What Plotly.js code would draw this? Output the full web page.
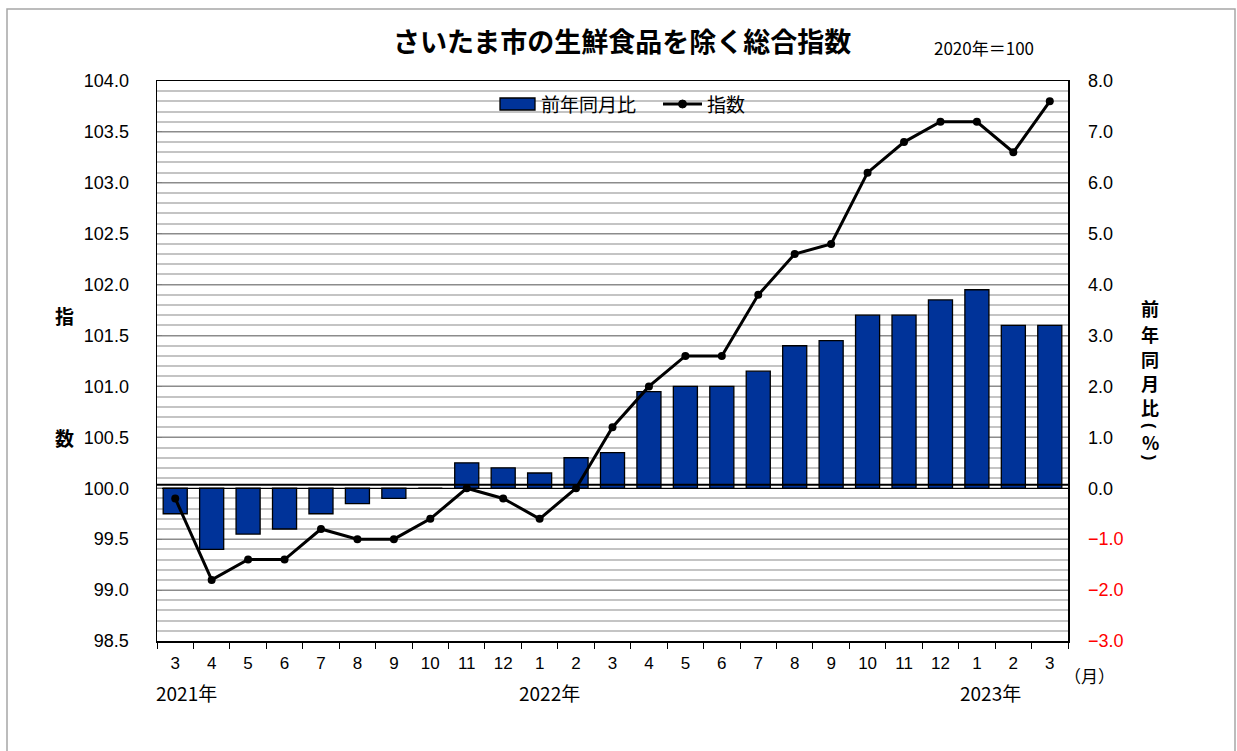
<!DOCTYPE html>
<html>
<head>
<meta charset="utf-8">
<script src="https://cdn.plot.ly/plotly-3.0.1.min.js"></script>
<style>html,body{margin:0;padding:0;background:#fff;}#chart{width:1237px;height:751px;}</style>
</head>
<body>
<div id="chart"></div>
<script>
const periods = ['2021-03','2021-04','2021-05','2021-06','2021-07','2021-08','2021-09','2021-10','2021-11','2021-12',
  '2022-01','2022-02','2022-03','2022-04','2022-05','2022-06','2022-07','2022-08','2022-09','2022-10','2022-11','2022-12',
  '2023-01','2023-02','2023-03'];
const monthLabels = ['3','4','5','6','7','8','9','10','11','12','1','2','3','4','5','6','7','8','9','10','11','12','1','2','3'];
const indexValues = [99.9,99.1,99.3,99.3,99.6,99.5,99.5,99.7,100.0,99.9,99.7,100.0,100.6,101.0,101.3,101.3,101.9,102.3,102.4,103.1,103.4,103.6,103.6,103.3,103.8];
const yoyValues = [-0.5,-1.2,-0.9,-0.8,-0.5,-0.3,-0.2,0.0,0.5,0.4,0.3,0.6,0.7,1.9,2.0,2.0,2.3,2.8,2.9,3.4,3.4,3.7,3.9,3.2,3.2];
const yearLabels = ['2021年','2022年','2023年'];
const rightTicks = [-3,-2,-1,0,1,2,3,4,5,6,7,8];
const seriesNames = ['前年同月比', '指数'];

const BAR_COLOR = '#003399';
const FONT = 'Liberation Sans, Arial, "Noto Sans CJK JP", sans-serif';
const JFONT = '"Noto Sans CJK JP", sans-serif';

const rightTickText = rightTicks.map(v => v < 0
  ? '<span style="color:#ff0000">\u2212' + Math.abs(v).toFixed(1) + '</span>'
  : v.toFixed(1));

const traces = [
  {
    type: 'bar', name: seriesNames[0], x: periods, y: yoyValues, yaxis: 'y', xaxis: 'x',
    width: 0.66,
    marker: {color: BAR_COLOR, line: {color: '#000000', width: 1.3}},
    hoverinfo: 'skip', showlegend: false
  },
  {
    type: 'scatter', mode: 'lines+markers', name: seriesNames[1], x: periods, y: indexValues, yaxis: 'y2', xaxis: 'x',
    line: {color: '#000000', width: 3},
    marker: {color: '#000000', size: 8},
    hoverinfo: 'skip', showlegend: false
  }
];

// paper-coordinate helpers from pixel positions of the 911x560 plot area
const px = v => (v - 157) / 911;
const py = v => (641 - v) / 560;

// vertical right-axis title
const rightTitle = [
  {c: '前', y: 308, rot: 0}, {c: '年', y: 334, rot: 0}, {c: '同', y: 359, rot: 0},
  {c: '月', y: 383, rot: 0}, {c: '比', y: 407, rot: 0}, {c: '(', y: 426, rot: 90},
  {c: '%', y: 442, rot: 0}, {c: ')', y: 457, rot: 90}
];
const rightTitleAnns = rightTitle.map(o => ({
  text: o.c, xref: 'paper', yref: 'paper', x: px(1150), y: py(o.y), xanchor: 'center', yanchor: 'middle',
  textangle: o.rot, showarrow: false,
  font: {family: o.rot ? FONT : JFONT, size: o.rot ? 16 : 18, weight: 700}
}));

const layout = {
  width: 1237, height: 751,
  margin: {l: 157, r: 169, t: 81, b: 110},
  paper_bgcolor: '#ffffff', plot_bgcolor: '#ffffff',
  font: {family: FONT, size: 16, color: '#000000'},
  showlegend: false,
  title: {text: 'さいたま市の生鮮食品を除く総合指数', x: 0.503, xanchor: 'center', y: 0.943, yanchor: 'middle',
    font: {family: JFONT, size: 27, color: '#000000', weight: 700}},
  xaxis: {
    type: 'category', range: [-0.5, periods.length - 0.5], tickmode: 'array', tickvals: periods, ticktext: monthLabels,
    tickson: 'boundaries', ticks: 'outside', ticklen: 6, tickcolor: '#000000', tickwidth: 1,
    showline: true, linecolor: '#000000', linewidth: 1.5, mirror: true,
    showgrid: false, tickfont: {family: FONT, size: 17}, ticklabelstandoff: 6, fixedrange: true
  },
  yaxis: {
    side: 'right', range: [-3, 8], tickmode: 'array', tickvals: rightTicks, ticktext: rightTickText,
    ticks: '', showline: true, linecolor: '#000000', linewidth: 1.5,
    showgrid: true, gridcolor: '#8c8c8c', gridwidth: 1,
    minor: {dtick: 0.2, showgrid: true, gridcolor: '#c4c4c4', gridwidth: 2, ticks: ''},
    zeroline: true, zerolinecolor: '#000000', zerolinewidth: 1.5,
    tickfont: {family: FONT, size: 18}, ticklabelstandoff: 15, fixedrange: true
  },
  yaxis2: {
    overlaying: 'y', side: 'left', range: [98.5, 104], dtick: 0.5, tick0: 98.5, tickformat: '.1f',
    ticks: 'inside', ticklen: 5, tickcolor: '#808080',
    showline: true, linecolor: '#000000', linewidth: 1.5,
    showgrid: false, zeroline: false,
    tickfont: {family: FONT, size: 18}, ticklabelstandoff: 23, fixedrange: true
  },
  shapes: [
    {type: 'line', xref: 'paper', yref: 'y2', x0: 0, x1: 1, y0: 100.035, y1: 100.035,
      line: {color: '#000000', width: 2}},
    {type: 'rect', xref: 'paper', yref: 'paper', x0: px(7), x1: px(1235), y0: py(800), y1: py(9),
      line: {color: '#a6a6a6', width: 1.5}, fillcolor: 'rgba(0,0,0,0)', layer: 'below'},
    // legend swatches
    {type: 'rect', xref: 'paper', yref: 'paper', x0: px(500), x1: px(535), y0: py(110), y1: py(98),
      fillcolor: BAR_COLOR, line: {color: '#000000', width: 1.3}},
    {type: 'line', xref: 'paper', yref: 'paper', x0: px(663), x1: px(702), y0: py(104), y1: py(104),
      line: {color: '#000000', width: 3}},
    {type: 'circle', xref: 'paper', yref: 'paper', xsizemode: 'pixel', ysizemode: 'pixel',
      xanchor: px(682.5), yanchor: py(104), x0: -4, x1: 4, y0: -4, y1: 4,
      fillcolor: '#000000', line: {color: '#000000', width: 1}}
  ],
  annotations: [
    {text: seriesNames[0], xref: 'paper', yref: 'paper', x: px(539), y: py(104), xanchor: 'left', yanchor: 'middle',
      showarrow: false, font: {family: JFONT, size: 19}},
    {text: seriesNames[1], xref: 'paper', yref: 'paper', x: px(705), y: py(104), xanchor: 'left', yanchor: 'middle',
      showarrow: false, font: {family: JFONT, size: 19}},
    {text: '2020年＝100', xref: 'paper', yref: 'paper', x: px(984), y: py(47), xanchor: 'center', yanchor: 'middle',
      showarrow: false, font: {family: JFONT, size: 17}},
    {text: '指', xref: 'paper', yref: 'paper', x: px(64), y: py(315), xanchor: 'center', yanchor: 'middle',
      showarrow: false, font: {family: JFONT, size: 19, weight: 700}},
    {text: '数', xref: 'paper', yref: 'paper', x: px(64), y: py(437), xanchor: 'center', yanchor: 'middle',
      showarrow: false, font: {family: JFONT, size: 19, weight: 700}},
    {text: yearLabels[0], xref: 'paper', yref: 'paper', x: px(186), y: py(692), xanchor: 'center', yanchor: 'middle',
      showarrow: false, font: {family: JFONT, size: 19}},
    {text: yearLabels[1], xref: 'paper', yref: 'paper', x: px(549), y: py(692), xanchor: 'center', yanchor: 'middle',
      showarrow: false, font: {family: JFONT, size: 19}},
    {text: yearLabels[2], xref: 'paper', yref: 'paper', x: px(990), y: py(692), xanchor: 'center', yanchor: 'middle',
      showarrow: false, font: {family: JFONT, size: 19}},
    {text: '（月）', xref: 'paper', yref: 'paper', x: px(1089), y: py(675), xanchor: 'center', yanchor: 'middle',
      showarrow: false, font: {family: JFONT, size: 17}}
  ].concat(rightTitleAnns)
};

Plotly.newPlot('chart', traces, layout, {displayModeBar: false, staticPlot: true});
</script>
</body>
</html>
